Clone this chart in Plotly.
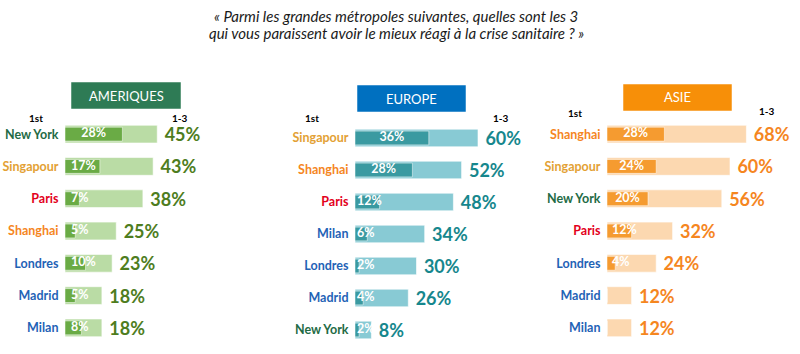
import plotly.graph_objects as go

# ---------------- data ----------------
regions = ["AMERIQUES", "EUROPE", "ASIE"]

cities_am = ["New York", "Singapour", "Paris", "Shanghai", "Londres", "Madrid", "Milan"]
first_am = [28, 17, 7, 5, 10, 5, 8]
top3_am = [45, 43, 38, 25, 23, 18, 18]

cities_eu = ["Singapour", "Shanghai", "Paris", "Milan", "Londres", "Madrid", "New York"]
first_eu = [36, 28, 12, 6, 2, 4, 2]
top3_eu = [60, 52, 48, 34, 30, 26, 8]

cities_as = ["Shanghai", "Singapour", "New York", "Paris", "Londres", "Madrid", "Milan"]
first_as = [28, 24, 20, 12, 4, None, None]
top3_as = [68, 60, 56, 32, 24, 12, 12]

title_lines = ["« Parmi les grandes métropoles suivantes, quelles sont les 3",
               "qui vous paraissent avoir le mieux réagi à la crise sanitaire ? »"]
label_first = "1st"
label_top3 = "1-3"

# ---------------- styles ----------------
W, H = 800, 354
FONT = "Lato"
city_colors = {
    "New York": "#236B45", "Singapour": "#E3A134", "Paris": "#E3001B",
    "Shanghai": "#F5861F", "Londres": "#1F63B6", "Madrid": "#1F63B6", "Milan": "#1F63B6",
}
panels = [
    dict(cities=cities_am, first=first_am, top3=top3_am, header="#2E7B55",
         light="#BADCA5", dark="#6AAB45", value="#4E7D1E",
         x0=65, y_top=118, y_bot=344, box=(71, 82, 181, 109),
         lab1=(36, 118), lab3=(180, 118), pad=6),
    dict(cities=cities_eu, first=first_eu, top3=top3_eu, header="#0070C0",
         light="#88CAD4", dark="#3A9AA1", value="#16878D",
         x0=355, y_top=122, y_bot=346, box=(357, 85, 466, 112),
         lab1=(312, 118), lab3=(501, 118), pad=2),
    dict(cities=cities_as, first=first_as, top3=top3_as, header="#F78F08",
         light="#FCD8B0", dark="#F59B30", value="#F5861F",
         x0=607, y_top=118, y_bot=344, box=(623, 84, 732, 111),
         lab1=(575, 113), lab3=(767, 111), pad=5),
]
PX_PER_UNIT = 2.05
DOMAIN_PX = 180
XMAX = DOMAIN_PX / PX_PER_UNIT
CENTER_MIN = 20      # first-choice labels are centred in bars at least this long


def px(x):
    return x / W


def py(y):
    return 1 - y / H


fig = go.Figure()
layout_axes = {}
shapes = []
annotations = []

for i, (name, p) in enumerate(zip(regions, panels), start=1):
    xa = "x" if i == 1 else f"x{i}"
    ya = "y" if i == 1 else f"y{i}"
    cats = p["cities"]
    # total (1-3) bars
    fig.add_trace(go.Bar(
        x=p["top3"], y=cats, orientation="h", xaxis=xa, yaxis=ya,
        width=0.55, marker=dict(color=p["light"], line=dict(color="rgba(255,255,255,0.6)", width=1)),
        text=[f"\u00a0{v}%" for v in p["top3"]], textposition="outside",
        outsidetextfont=dict(family=FONT, size=18, color=p["value"], weight="bold"),
        constraintext="none", cliponaxis=False, hoverinfo="skip", showlegend=False,
    ))
    # first-choice bars
    fig.add_trace(go.Bar(
        x=[v if v is not None else 0 for v in p["first"]], y=cats, orientation="h",
        xaxis=xa, yaxis=ya, width=0.43,
        marker=dict(color=p["dark"], line=dict(color="rgba(255,255,255,0.5)", width=1)),
        hoverinfo="skip", showlegend=False, cliponaxis=False,
    ))
    # labels for first-choice bars
    xs, pos = [], []
    for v in p["first"]:
        if v is None:
            xs.append(None); pos.append("middle center")
        elif v >= CENTER_MIN:
            xs.append(v / 2); pos.append("middle center")
        else:
            xs.append(p["pad"] / PX_PER_UNIT); pos.append("middle right")
    fig.add_trace(go.Scatter(
        x=xs, y=cats, xaxis=xa, yaxis=ya, mode="text",
        text=[f"{v}%" if v is not None else "" for v in p["first"]],
        textposition=pos,
        textfont=dict(family=FONT, size=12.5, color="white", weight="bold"),
        hoverinfo="skip", showlegend=False, cliponaxis=False,
    ))
    xkey = "xaxis" if i == 1 else f"xaxis{i}"
    ykey = "yaxis" if i == 1 else f"yaxis{i}"
    layout_axes[xkey] = dict(domain=[px(p["x0"]), px(p["x0"] + DOMAIN_PX)], range=[0, XMAX],
                             visible=False, anchor=ya, fixedrange=True)
    layout_axes[ykey] = dict(
        domain=[py(p["y_bot"]), py(p["y_top"])], anchor=xa, type="category",
        categoryorder="array", categoryarray=cats, range=[6.5, -0.5],
        tickvals=cats,
        ticktext=[f"<b><span style='color:{city_colors[c]}'>{c}</span></b>" for c in cats],
        tickfont=dict(family=FONT, size=12.5), ticks="outside", ticklen=3,
        tickcolor="rgba(0,0,0,0)", showgrid=False, zeroline=False, showline=False,
        fixedrange=True,
    )
    bx0, by0, bx1, by1 = p["box"]
    shapes.append(dict(type="rect", xref="paper", yref="paper",
                       x0=px(bx0), x1=px(bx1), y0=py(by1), y1=py(by0),
                       fillcolor=p["header"], line=dict(color="rgba(255,255,255,0.5)", width=1)))
    annotations.append(dict(xref="paper", yref="paper", x=px((bx0 + bx1) / 2), y=py((by0 + by1) / 2),
                            text=name, showarrow=False, xanchor="center", yanchor="middle",
                            font=dict(family=FONT, size=13, color="white")))
    for lab, (lx, ly) in ((label_first, p["lab1"]), (label_top3, p["lab3"])):
        annotations.append(dict(xref="paper", yref="paper", x=px(lx), y=py(ly), text=f"<b>{lab}</b>",
                                showarrow=False, xanchor="center", yanchor="middle",
                                font=dict(family=FONT, size=10, color="black")))

for line, yy in zip(title_lines, (16, 33)):
    annotations.append(dict(xref="paper", yref="paper", x=px(396), y=py(yy), text=f"<i>{line}</i>",
                            showarrow=False, xanchor="center", yanchor="middle",
                            font=dict(family=FONT, size=15, color="#1a1a1a")))

fig.update_layout(
    width=W, height=H, margin=dict(l=0, r=0, t=0, b=0),
    paper_bgcolor="white", plot_bgcolor="white", barmode="overlay",
    shapes=shapes, annotations=annotations, showlegend=False,
    font=dict(family=FONT), **layout_axes,
)

fig.write_html("out.html", config={"displayModeBar": False})
